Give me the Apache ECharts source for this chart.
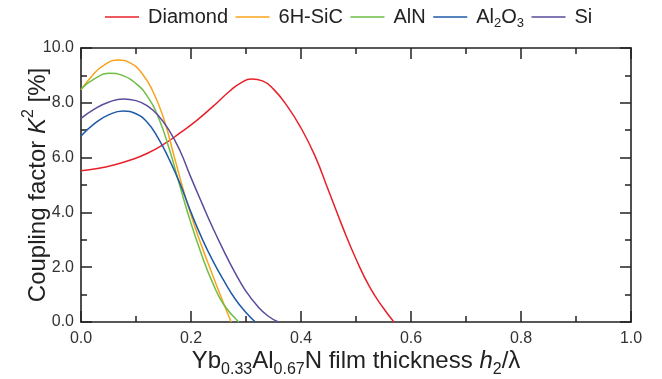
<!DOCTYPE html>
<html><head><meta charset="utf-8">
<script src="https://cdn.jsdelivr.net/npm/echarts@6/dist/echarts.min.js"></script>
<style>html,body{margin:0;padding:0;background:#fff}#c{width:662px;height:379px}</style>
</head><body><div id="c"></div>
<script>
const seriesNames = ['Diamond', '6H-SiC', 'AlN', 'Al2O3', 'Si'];
const seriesColors = ['#e8202a', '#f8a31b', '#6dbe45', '#1f5aa6', '#5a4b9c'];

const diamondX = [0, 0.03, 0.06, 0.09, 0.12, 0.15, 0.18, 0.21, 0.24, 0.27, 0.29, 0.31, 0.33, 0.35, 0.375, 0.4, 0.425, 0.45, 0.475, 0.5, 0.525, 0.55, 0.569];
const diamondY = [5.52, 5.6, 5.73, 5.91, 6.15, 6.48, 6.9, 7.35, 7.87, 8.42, 8.72, 8.87, 8.8, 8.5, 7.88, 7.08, 6.08, 4.8, 3.5, 2.3, 1.27, 0.5, 0];

const sicX = [0, 0.02, 0.04, 0.068, 0.09, 0.11, 0.13, 0.15, 0.17, 0.19, 0.21, 0.23, 0.25, 0.273];
const sicY = [8.47, 8.98, 9.35, 9.56, 9.45, 9.1, 8.45, 7.45, 6.0, 4.55, 3.3, 2.2, 1.15, 0];

const alnX = [0, 0.025, 0.053, 0.075, 0.1, 0.12, 0.14, 0.16, 0.18, 0.2, 0.22, 0.24, 0.26, 0.287];
const alnY = [8.5, 8.88, 9.08, 9.0, 8.7, 8.25, 7.5, 6.35, 4.95, 3.6, 2.42, 1.4, 0.62, 0];

const al2o3X = [0, 0.025, 0.05, 0.077, 0.1, 0.12, 0.14, 0.16, 0.18, 0.2, 0.22, 0.24, 0.26, 0.28, 0.3, 0.317];
const al2o3Y = [6.79, 7.25, 7.56, 7.70, 7.6, 7.3, 6.72, 5.95, 5.05, 4.0, 3.05, 2.22, 1.5, 0.85, 0.35, 0];

const siX = [0, 0.025, 0.05, 0.077, 0.1, 0.12, 0.14, 0.16, 0.18, 0.2, 0.22, 0.24, 0.26, 0.28, 0.3, 0.32, 0.34, 0.359];
const siY = [7.43, 7.78, 8.02, 8.14, 8.08, 7.9, 7.55, 7.0, 6.25, 5.27, 4.33, 3.42, 2.58, 1.8, 1.12, 0.6, 0.22, 0];

const xTicks = [0, 0.2, 0.4, 0.6, 0.8, 1.0];
const yTicks = [0, 2, 4, 6, 8, 10];

const allX = [diamondX, sicX, alnX, al2o3X, siX];
const allY = [diamondY, sicY, alnY, al2o3Y, siY];

const FF = '"Liberation Sans", Arial, Helvetica, sans-serif';
const AX = '#222';

const nameRich = {
  n: {fontSize: 24, lineHeight: 34, verticalAlign: 'middle', color: AX, fontFamily: FF},
  i: {fontSize: 24, lineHeight: 34, verticalAlign: 'middle', color: AX, fontFamily: FF, fontStyle: 'italic'},
  s: {fontSize: 16, lineHeight: 18, verticalAlign: 'bottom', color: AX, fontFamily: FF},
  p: {fontSize: 16, lineHeight: 15, verticalAlign: 'top', color: AX, fontFamily: FF}
};

function axisCommon(isX, showLabel, pos) {
  const ticks = isX ? xTicks : yTicks;
  return {
    type: 'value',
    position: pos,
    min: ticks[0],
    max: ticks[ticks.length - 1],
    interval: ticks[1] - ticks[0],
    axisLine: {show: true, onZero: false, lineStyle: {color: AX, width: 1.6}},
    axisTick: {show: true, inside: true, length: 11, lineStyle: {color: AX, width: 1.5}},
    minorTick: {show: true, splitNumber: 2, length: 6, lineStyle: {color: AX, width: 1.5}},
    splitLine: {show: false},
    minorSplitLine: {show: false},
    axisLabel: {show: showLabel, fontSize: 16, color: '#333', fontFamily: FF,
      margin: isX ? 9 : 7, formatter: v => v.toFixed(1)}
  };
}

const xBottom = Object.assign(axisCommon(true, true, 'bottom'), {
  name: '{n|Yb}{s|0.33}{n|Al}{s|0.67}{n|N film thickness }{i|h}{s|2}{n|/λ}',
  nameLocation: 'middle', nameGap: 22, nameMoveOverlap: false,
  nameTextStyle: {rich: nameRich}
});
const xTop = axisCommon(true, false, 'top');
const yLeft = Object.assign(axisCommon(false, true, 'left'), {
  name: '{n|Coupling factor }{i|K}{p|2}{n| [%]}',
  nameLocation: 'middle', nameGap: 26, nameRotate: 90, nameMoveOverlap: false,
  nameTextStyle: {rich: nameRich}
});
const yRight = axisCommon(false, false, 'right');

const series = seriesNames.map((nm, k) => ({
  name: nm,
  type: 'line',
  xAxisIndex: 0, yAxisIndex: 0,
  data: allX[k].map((x, i) => [x, allY[k][i]]),
  smooth: 0.5,
  symbol: 'none',
  showSymbol: false,
  color: seriesColors[k],
  lineStyle: {width: 1.5, color: seriesColors[k]},
  clip: true
}));

const chart = echarts.init(document.getElementById('c'), null, {renderer: 'canvas'});
chart.setOption({
  animation: false,
  backgroundColor: '#fff',
  grid: {left: 81, right: 31, top: 48, bottom: 57, containLabel: false, outerBoundsMode: 'none'},
  legend: {
    top: 2, left: 100,
    icon: 'rect',
    itemWidth: 34, itemHeight: 1.5, itemGap: 7.5,
    data: seriesNames,
    formatter: nm => nm === 'Al2O3' ? '{n|Al}{s|2}{n|O}{s|3}' : '{n|' + nm + '}',
    textStyle: {
      padding: [0, 0, 0, 4],
      rich: {
        n: {fontSize: 20, lineHeight: 26, verticalAlign: 'middle', color: '#222', fontFamily: FF},
        s: {fontSize: 13, lineHeight: 16, verticalAlign: 'bottom', color: '#222', fontFamily: FF}
      }
    }
  },
  xAxis: [xBottom, xTop],
  yAxis: [yLeft, yRight],
  series: series
});
</script>
</body></html>
